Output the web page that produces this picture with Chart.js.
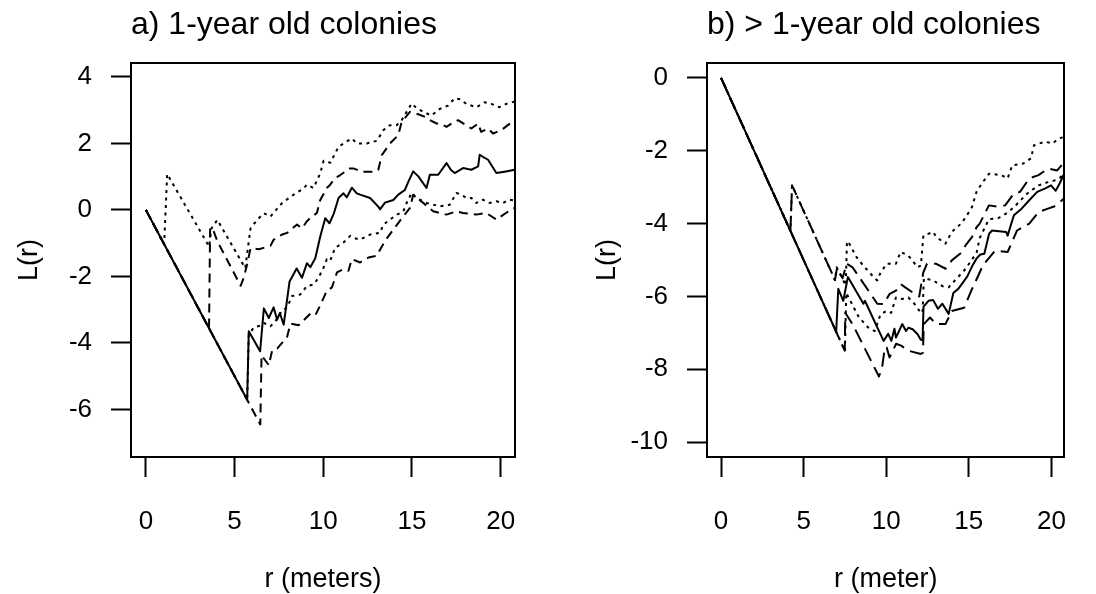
<!DOCTYPE html>
<html><head><meta charset="utf-8">
<script src="https://cdn.jsdelivr.net/npm/chart.js@4.4.1/dist/chart.umd.min.js"></script>
<style>
html,body{margin:0;padding:0;background:#fff;}
#wrap{position:relative;width:1096px;height:594px;background:#fff;}
.pane{position:absolute;top:0;width:548px;height:594px;}
canvas{display:block;}
</style></head>
<body><div id="wrap">
<div class="pane" style="left:0"><canvas id="ca" width="548" height="594"></canvas></div>
<div class="pane" style="left:548px"><canvas id="cb" width="548" height="594"></canvas></div>
</div>
<script>
// ---------- text ----------
const titleA = 'a) 1-year old colonies';
const titleB = 'b) > 1-year old colonies';
const xLabelA = 'r (meters)';
const xLabelB = 'r (meter)';
const yLabel = 'L(r)';

// ---------- panel a data (r in metres, L(r)) ----------
const aSolidR = [0,5.71,5.8,6.44,6.65,6.93,7.2,7.4,7.55,7.77,8.1,8.5,8.8,9.08,9.27,9.55,9.83,10.11,10.35,10.6,10.86,11.14,11.33,11.61,11.89,12.08,12.64,13.1,13.2,13.48,13.95,14.23,14.6,14.8,15.07,15.36,15.82,16.01,16.48,16.95,17.2,17.41,17.88,18.35,18.73,18.82,19.0,19.29,19.76,20.3,20.8];
const aSolidL = [0,-5.71,-3.65,-4.25,-2.96,-3.25,-2.93,-3.3,-3.1,-3.45,-2.15,-1.76,-2.04,-1.6,-1.72,-1.45,-0.8,-0.25,-0.4,-0.1,0.36,0.5,0.38,0.67,0.5,0.46,0.36,0.1,0.02,0.22,0.3,0.46,0.6,0.85,1.16,1.01,0.66,1.06,1.06,1.41,1.2,1.11,1.26,1.21,1.31,1.66,1.6,1.51,1.11,1.16,1.21];

const aDotUpR = [0,1.03,1.2,3.56,3.7,4.03,5.6,5.9,6.27,6.65,7.02,7.68,8.33,8.9,9.08,9.45,9.83,10.02,10.4,10.86,11.14,11.61,11.9,12.45,13.02,13.39,13.76,14.14,14.42,14.7,14.98,15.26,15.64,16.1,16.57,17.04,17.41,17.7,18.07,18.63,19.1,19.48,19.94,20.32,20.8];
const aDotUpL = [0,-1.03,1.08,-1.1,-0.55,-0.3,-1.75,-0.55,-0.3,-0.1,-0.2,0.21,0.46,0.65,0.76,0.66,1.1,1.48,1.42,1.9,2.0,2.15,2.0,2.0,2.08,2.4,2.55,2.55,2.7,2.95,3.2,3.06,2.95,2.84,3.04,3.14,3.36,3.33,3.19,3.09,3.24,3.19,3.09,3.19,3.26];

const aDashUpR = [0,3.56,3.62,3.75,4.03,5.34,5.52,5.71,5.9,6.37,7.02,7.21,7.68,7.96,8.52,8.8,9.08,9.27,9.64,9.83,10.2,10.39,10.67,10.96,11.5,11.7,12.17,12.83,13.1,13.3,13.5,13.76,14.23,14.42,14.89,15.36,15.82,16.01,16.39,16.57,16.95,17.32,17.6,18.07,18.35,18.73,18.9,19.3,19.57,19.76,20.13,20.5,20.8];
const aDashUpL = [0,-3.56,-0.55,-0.54,-0.94,-2.28,-2.03,-1.63,-1.15,-1.18,-1.08,-0.89,-0.74,-0.69,-0.44,-0.55,-0.34,-0.24,-0.09,0.3,0.66,0.76,0.96,1.05,1.25,1.25,1.15,1.15,1.2,1.65,1.8,2.0,2.25,2.65,2.95,2.88,2.78,2.7,2.6,2.6,2.5,2.63,2.7,2.54,2.45,2.6,2.35,2.45,2.3,2.34,2.44,2.59,2.66];

const aDotLoR = [0,5.71,5.8,6.09,6.46,6.65,7.02,7.3,7.68,7.96,8.24,8.71,9.08,9.46,9.74,10.02,10.2,10.39,10.67,11.14,11.52,11.7,12.08,12.45,12.64,13.2,13.39,13.76,14.14,14.51,14.7,14.98,15.26,15.64,15.82,16.2,16.57,17.13,17.51,17.79,18.07,18.35,18.63,19.0,19.38,19.76,20.13,20.5,20.8];
const aDotLoL = [0,-5.71,-3.75,-3.53,-3.48,-3.4,-3.5,-3.35,-3.03,-2.93,-2.59,-2.54,-2.29,-2.24,-2.03,-1.73,-1.48,-1.53,-1.14,-0.98,-0.78,-0.84,-0.89,-0.79,-0.74,-0.69,-0.44,-0.29,-0.14,-0.05,0.21,0.51,0.36,0.26,0.21,0.16,0.11,0.16,0.51,0.46,0.36,0.36,0.21,0.31,0.21,0.26,0.21,0.31,0.28];

const aDashLoR = [0,6.45,6.52,6.93,7.12,7.4,7.96,8.15,8.61,8.8,9.27,9.55,9.83,10.2,10.49,10.77,11.14,11.42,11.61,12.08,12.55,13.01,13.48,13.95,14.51,14.89,15.07,15.64,16.2,16.95,17.51,17.88,18.63,19.19,19.76,20.3,20.8];
const aDashLoL = [0,-6.45,-4.37,-4.67,-4.22,-4.17,-3.82,-3.42,-3.47,-3.37,-3.12,-3.17,-2.87,-2.43,-2.33,-1.88,-1.78,-1.83,-1.48,-1.58,-1.43,-1.38,-0.93,-0.59,-0.19,0.06,0.46,0.21,-0.04,-0.14,-0.04,-0.09,-0.14,-0.09,-0.29,-0.09,0.06];

// ---------- panel b data ----------
const bSolidR = [0,6.97,7.1,7.4,7.68,8.62,8.71,9.84,10.12,10.31,10.5,10.59,10.97,11.2,11.34,11.6,11.9,12.09,12.2,12.26,12.56,12.84,13.13,13.4,13.78,14.07,14.35,14.63,14.91,15.19,15.48,15.7,15.94,16.23,16.41,17.26,17.35,17.73,18.2,18.66,19.14,19.6,19.98,20.26,20.5,20.8];
const bSolidL = [0,-6.97,-5.79,-6.12,-5.47,-6.2,-6.12,-7.22,-7.03,-7.22,-6.89,-7.13,-6.76,-6.95,-6.86,-6.9,-7.04,-7.19,-7.2,-6.28,-6.12,-6.1,-6.34,-6.2,-6.48,-5.9,-5.8,-5.63,-5.45,-5.18,-4.95,-4.85,-4.83,-4.28,-4.19,-4.23,-4.33,-3.77,-3.59,-3.36,-3.13,-3.04,-2.95,-3.1,-2.9,-2.6];

const bDotUpR = [0,4.2,4.3,6.9,7.0,7.55,7.62,7.68,8.2,8.6,9.3,9.46,9.65,10.03,10.59,10.87,11.34,11.9,12.1,12.25,12.85,13.03,13.59,13.97,14.54,14.82,15.19,15.48,15.85,16.23,16.97,17.35,17.63,18.29,18.76,18.95,19.61,20.07,20.45,20.8];
const bDotUpL = [0,-4.2,-2.95,-5.55,-5.2,-5.7,-4.55,-4.48,-4.92,-5.15,-5.5,-5.56,-5.35,-5.1,-5.1,-4.78,-4.88,-5.2,-5.15,-4.33,-4.23,-4.37,-4.55,-4.23,-4.0,-3.82,-3.55,-3.11,-2.86,-2.63,-2.67,-2.76,-2.4,-2.35,-2.21,-1.85,-1.75,-1.8,-1.66,-1.62];

const bDashUpR = [0,4.2,4.3,6.9,7.02,7.36,7.6,7.96,9.46,9.84,10.21,10.59,10.87,11.15,11.72,12.0,12.24,12.47,13.0,13.6,13.97,14.54,14.8,15.19,15.47,15.66,16.22,16.79,17.2,17.72,18.1,18.66,19.22,19.79,20.35,20.8];
const bDashUpL = [0,-4.2,-2.95,-5.55,-5.22,-5.5,-5.1,-5.2,-6.2,-6.21,-5.93,-5.84,-5.66,-5.75,-5.93,-6.0,-5.35,-5.1,-5.1,-5.24,-5.01,-4.8,-4.6,-4.37,-4.1,-4.0,-3.5,-3.54,-3.5,-3.18,-3.13,-2.76,-2.67,-2.49,-2.54,-2.3];

const bDotLoR = [0,7.5,7.58,7.77,8.34,8.9,9.3,9.65,10.0,10.3,10.59,10.97,11.34,11.72,12.09,12.2,12.28,12.84,13.41,13.78,14.16,14.7,15.1,15.47,15.66,16.22,16.79,17.35,17.73,18.1,18.47,18.85,19.23,19.79,20.16,20.5,20.8];
const bDotLoL = [0,-7.5,-5.9,-6.07,-6.57,-6.85,-6.95,-6.5,-6.4,-6.45,-6.03,-6.07,-6.03,-6.21,-6.45,-6.45,-5.5,-5.56,-5.72,-5.75,-5.56,-5.3,-5.05,-4.8,-4.4,-3.88,-3.85,-3.7,-3.55,-3.38,-3.2,-3.07,-2.95,-2.86,-2.82,-2.75,-2.6];

const bDashLoR = [0,7.49,7.52,7.96,9.56,9.75,9.92,10.03,10.2,10.6,10.9,11.34,12.09,12.22,12.28,12.65,13.03,13.59,13.97,14.72,15.19,15.5,15.85,16.6,17.35,17.92,18.66,19.23,19.79,20.17,20.64,20.8];
const bDashLoL = [0,-7.49,-6.45,-6.76,-8.2,-7.95,-7.4,-7.4,-7.68,-7.3,-7.35,-7.49,-7.58,-7.55,-6.76,-6.58,-6.76,-6.76,-6.4,-6.31,-5.8,-5.5,-5.15,-4.74,-4.78,-4.19,-4.0,-3.68,-3.59,-3.53,-3.36,-3.3];

// ---------- axis ticks ----------
const xTickStep = 5;
const yTickStep = 2;

// ---------- drawing ----------
const FONT = "'Liberation Sans', Arial, Helvetica, sans-serif";
Chart.defaults.font.family = FONT;
Chart.defaults.color = '#000';

function pts(rs, ls) { return rs.map((r, i) => ({x: r, y: ls[i]})); }

function ds(rs, ls, dash) {
  return {
    data: pts(rs, ls), borderColor: '#000', borderWidth: 2, borderDash: dash,
    pointRadius: 0, pointHoverRadius: 0, fill: false, tension: 0, borderCapStyle: 'butt', borderJoinStyle: 'round'
  };
}

function panel(canvas, p) {
  const tickFont = {family: FONT, size: 26};
  const labFont = {family: FONT, size: 27};
  const frame = {display: true, color: '#000', width: 2};
  return new Chart(canvas, {
    type: 'line',
    data: { datasets: p.datasets },
    options: {
      responsive: false, animation: false, devicePixelRatio: 1,
      layout: { padding: { left: 0, right: p.padRight, top: 0, bottom: 0 } },
      plugins: {
        legend: { display: false }, tooltip: { enabled: false },
        title: {
          display: true, text: p.title, align: 'start', fullSize: false, color: '#000',
          font: { family: FONT, size: 32, weight: 'normal' },
          padding: { top: 6.2, bottom: 18.4 }
        }
      },
      scales: {
        x: {
          type: 'linear', position: 'bottom', min: p.xMin, max: p.xMax,
          ticks: { stepSize: xTickStep, includeBounds: false, font: tickFont, color: '#000', padding: 29, maxRotation: 0, autoSkip: false },
          grid: { display: true, drawOnChartArea: false, drawTicks: true, tickLength: 20, tickColor: '#000', tickWidth: 2 },
          border: frame,
          title: { display: true, text: p.xLabel, font: labFont, color: '#000', padding: { top: 0, bottom: -2 } },
          afterFit: s => { s.height = 137; }
        },
        y: {
          type: 'linear', position: 'left', min: p.yMin, max: p.yMax,
          ticks: { stepSize: yTickStep, includeBounds: false, font: tickFont, color: '#000', padding: 19 },
          grid: { display: true, drawOnChartArea: false, drawTicks: true, tickLength: 20, tickColor: '#000', tickWidth: 2 },
          border: frame,
          title: { display: true, text: yLabel, font: labFont, color: '#000', padding: { top: p.yTitlePad, bottom: 0 } },
          afterFit: s => { s.width = p.yWidth; }
        },
        x2: {
          type: 'linear', position: 'top', min: p.xMin, max: p.xMax,
          ticks: { display: false }, grid: { display: false, drawTicks: false }, border: frame,
          afterFit: s => { s.height = 0; }
        },
        y2: {
          type: 'linear', position: 'right', min: p.yMin, max: p.yMax,
          ticks: { display: false }, grid: { display: false, drawTicks: false }, border: frame,
          afterFit: s => { s.width = 0; }
        }
      }
    }
  });
}

const DASH_A = [9, 6], DOT = [3, 4.5], DASH_B = [14, 7];

panel(document.getElementById('ca'), {
  title: titleA, xLabel: xLabelA,
  xMin: -0.84, xMax: 20.81, yMin: -7.43, yMax: 4.42,
  yWidth: 131, padRight: 33, yTitlePad: 13.8,
  datasets: [
    ds(aDotUpR, aDotUpL, DOT),
    ds(aDotLoR, aDotLoL, DOT),
    ds(aDashUpR, aDashUpL, DASH_A),
    ds(aDashLoR, aDashLoL, DASH_A),
    ds(aSolidR, aSolidL, [])
  ]
});

panel(document.getElementById('cb'), {
  title: titleB, xLabel: xLabelB,
  xMin: -0.85, xMax: 20.79, yMin: -10.41, yMax: 0.41,
  yWidth: 159, padRight: 5, yTitlePad: 43.8,
  datasets: [
    ds(bDotUpR, bDotUpL, DOT),
    ds(bDotLoR, bDotLoL, DOT),
    ds(bDashUpR, bDashUpL, DASH_B),
    ds(bDashLoR, bDashLoL, DASH_B),
    ds(bSolidR, bSolidL, [])
  ]
});
</script>
</body></html>
